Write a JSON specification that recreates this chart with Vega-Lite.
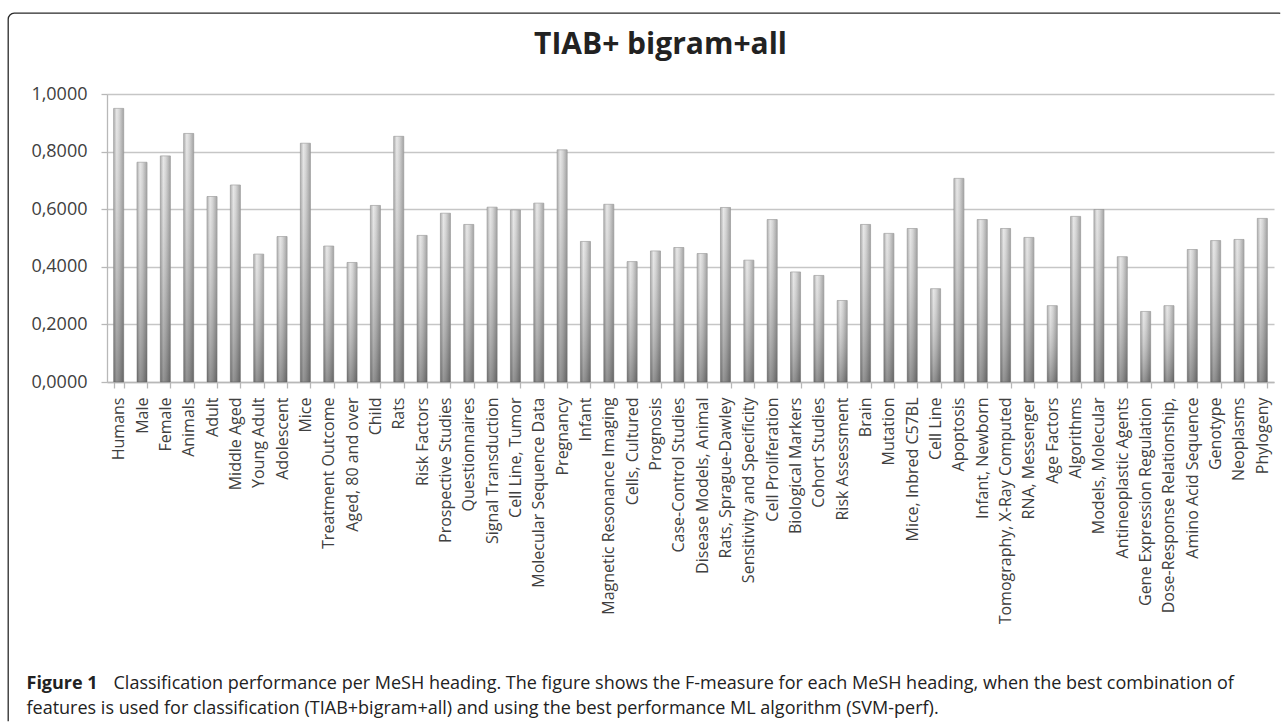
{
  "$schema": "https://vega.github.io/schema/vega-lite/v6.json",
  "width": 1277,
  "height": 714,
  "autosize": {"type": "none"},
  "padding": {"left": 8, "top": 13, "right": 0, "bottom": 0},
  "background": "white",
  "view": {"stroke": "#2a2a2a", "strokeWidth": 1.3, "cornerRadius": 6, "strokeDash": [1266, 1994, 720], "fill": null},
  "title": {"text": "TIAB+ bigram+all", "anchor": "middle", "frame": "group", "offset": -71, "baseline": "alphabetic", "dx": 14, "font": "Open Sans", "fontSize": 30, "fontWeight": "bold", "color": "#222222"},
  "data": {"values": [
    {"heading": "Humans", "f": 0.950},
    {"heading": "Male", "f": 0.763},
    {"heading": "Female", "f": 0.785},
    {"heading": "Animals", "f": 0.863},
    {"heading": "Adult", "f": 0.644},
    {"heading": "Middle Aged", "f": 0.684},
    {"heading": "Young Adult", "f": 0.444},
    {"heading": "Adolescent", "f": 0.505},
    {"heading": "Mice", "f": 0.829},
    {"heading": "Treatment Outcome", "f": 0.472},
    {"heading": "Aged, 80 and over", "f": 0.415},
    {"heading": "Child", "f": 0.613},
    {"heading": "Rats", "f": 0.853},
    {"heading": "Risk Factors", "f": 0.509},
    {"heading": "Prospective Studies", "f": 0.586},
    {"heading": "Questionnaires", "f": 0.547},
    {"heading": "Signal Transduction", "f": 0.607},
    {"heading": "Cell Line, Tumor", "f": 0.597},
    {"heading": "Molecular Sequence Data", "f": 0.621},
    {"heading": "Pregnancy", "f": 0.806},
    {"heading": "Infant", "f": 0.488},
    {"heading": "Magnetic Resonance Imaging", "f": 0.617},
    {"heading": "Cells, Cultured", "f": 0.418},
    {"heading": "Prognosis", "f": 0.455},
    {"heading": "Case-Control Studies", "f": 0.467},
    {"heading": "Disease Models, Animal", "f": 0.446},
    {"heading": "Rats, Sprague-Dawley", "f": 0.606},
    {"heading": "Sensitivity and Specificity", "f": 0.423},
    {"heading": "Cell Proliferation", "f": 0.564},
    {"heading": "Biological Markers", "f": 0.382},
    {"heading": "Cohort Studies", "f": 0.370},
    {"heading": "Risk Assessment", "f": 0.283},
    {"heading": "Brain", "f": 0.547},
    {"heading": "Mutation", "f": 0.516},
    {"heading": "Mice, Inbred C57BL", "f": 0.533},
    {"heading": "Cell Line", "f": 0.324},
    {"heading": "Apoptosis", "f": 0.707},
    {"heading": "Infant, Newborn", "f": 0.564},
    {"heading": "Tomography, X-Ray Computed", "f": 0.533},
    {"heading": "RNA, Messenger", "f": 0.502},
    {"heading": "Age Factors", "f": 0.265},
    {"heading": "Algorithms", "f": 0.575},
    {"heading": "Models, Molecular", "f": 0.599},
    {"heading": "Antineoplastic Agents", "f": 0.435},
    {"heading": "Gene Expression Regulation", "f": 0.245},
    {"heading": "Dose-Response Relationship,", "f": 0.265},
    {"heading": "Amino Acid Sequence", "f": 0.460},
    {"heading": "Genotype", "f": 0.491},
    {"heading": "Neoplasms", "f": 0.495},
    {"heading": "Phylogeny", "f": 0.568}
  ]},
  "encoding": {
    "x": {
      "field": "heading", "type": "nominal", "sort": null,
      "scale": {"range": [99, 1266], "paddingInner": 0.57, "paddingOuter": 0.285},
      "axis": {
        "title": "features is used for classification (TIAB+bigram+all) and using the best performance ML algorithm (SVM-perf).",
        "titleX": 18, "titleY": 331, "titleAlign": "left", "titleBaseline": "alphabetic",
        "titleFont": "Open Sans", "titleFontSize": 18, "titleFontWeight": "normal", "titleColor": "#222222",
        "offset": -345,
        "labelAngle": -90, "labelAlign": "right", "labelBaseline": "middle",
        "labelFont": "Open Sans", "labelFontSize": 16, "labelColor": "#404040", "labelLimit": 400, "labelOverlap": false, "labelPadding": 9,
        "tickSize": 6, "tickBand": "extent", "tickColor": "#b8b8b8", "tickWidth": 1.3,
        "domainColor": "#b8b8b8", "domainWidth": 1.3, "grid": false
      }
    }
  },
  "layer": [
    {
      "mark": {"type": "bar", "stroke": "#8a8a8a", "strokeWidth": 0.6,
        "fill": {"gradient": "linear", "x1": 0, "y1": 0, "x2": 1, "y2": 0, "stops": [
          {"offset": 0, "color": "#9c9c9c"}, {"offset": 0.3, "color": "#e2e2e2"}, {"offset": 0.55, "color": "#cccccc"}, {"offset": 1, "color": "#8c8c8c"}]}},
      "encoding": {
        "y": {
          "field": "f", "type": "quantitative",
          "scale": {"domain": [0, 1], "range": [369, 81], "nice": false},
          "axis": {
            "orient": "left",
            "values": [0, 0.2, 0.4, 0.6, 0.8, 1], "format": ".4f", "offset": -99,
            "grid": true, "gridColor": "#c6c6c6", "gridWidth": 1.3,
            "domain": true, "domainColor": "#b8b8b8", "domainWidth": 1.3,
            "ticks": true, "tickSize": 6, "tickColor": "#b8b8b8", "tickWidth": 1.3,
            "labelFont": "Open Sans", "labelFontSize": 18, "labelColor": "#404040", "labelPadding": 14,
            "title": "Figure 1", "titleAngle": 0, "titleAlign": "left", "titleBaseline": "alphabetic",
            "titleX": -81, "titleY": 675, "titleFont": "Open Sans", "titleFontSize": 18, "titleFontWeight": "bold", "titleColor": "#222222"
          }
        }
      }
    },
    {
      "mark": {"type": "bar",
        "fill": {"gradient": "linear", "x1": 0, "y1": 0, "x2": 0, "y2": 1, "stops": [
          {"offset": 0, "color": "rgba(255,255,255,0.2)"}, {"offset": 1, "color": "rgba(50,50,50,0.45)"}]}},
      "encoding": {
        "y": {
          "field": "f", "type": "quantitative",
          "axis": {
            "orient": "right", "offset": 0,
            "grid": false, "domain": false, "ticks": false, "labels": false,
            "title": "Classification performance per MeSH heading. The figure shows the F-measure for each MeSH heading, when the best combination of",
            "titleAngle": 0, "titleAlign": "left", "titleBaseline": "alphabetic",
            "titleX": -1172, "titleY": 675, "titleFont": "Open Sans", "titleFontSize": 18, "titleFontWeight": "normal", "titleColor": "#222222"
          }
        }
      }
    }
  ],
  "resolve": {"axis": {"y": "independent"}},
  "config": {
    "locale": {"number": {"decimal": ",", "thousands": ".", "grouping": [3], "currency": ["", " €"]}}
  }
}
